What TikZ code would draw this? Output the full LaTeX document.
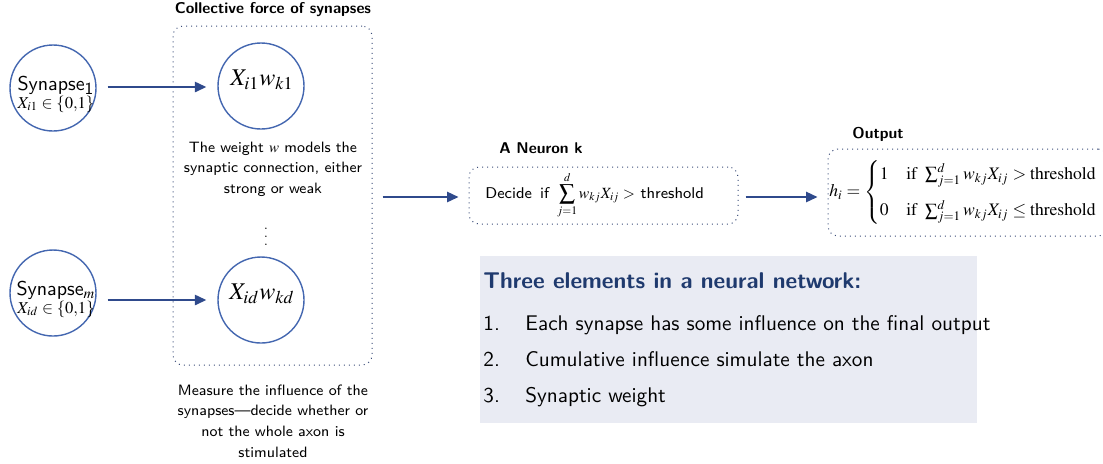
\documentclass[tikz,border=0pt]{standalone}
\usepackage{amsmath}
\usepackage{mathptmx}
\usetikzlibrary{arrows.meta}
\definecolor{circblue}{HTML}{4467B0}
\definecolor{arrblue}{HTML}{2F4A8C}
\definecolor{navy}{HTML}{1F3A6E}
\definecolor{panel}{HTML}{E9EBF3}
\definecolor{dotc}{HTML}{3A4C78}
\begin{document}
\begin{tikzpicture}[x=0.5pt, y=-0.5pt, >={Triangle[length=2mm, width=1.8mm]},
  sinapsis/.style={circle, draw=circblue, line width=0.7pt, minimum size=43pt, inner sep=0pt},
  caja/.style={draw=dotc, dotted, rounded corners=5pt, line width=0.5pt},
  flecha/.style={->, draw=arrblue, line width=0.9pt},
  titulo/.style={font=\sffamily\bfseries\fontsize{7.8}{9}\selectfont},
  texto/.style={font=\sffamily\fontsize{7.5}{10.3}\selectfont, align=center},
  lista/.style={anchor=base west, inner sep=0pt, font=\sffamily\fontsize{10.6}{12}\selectfont}]
  \useasboundingbox (0,0) rectangle (1103,463);
  % panel de los tres elementos
  \fill[panel] (480,256) rectangle (977,423);
  \node[anchor=west, inner sep=0pt, text=navy, font=\sffamily\bfseries\fontsize{11.4}{13}\selectfont]
    (elem) at (483,281) {Three elements in a neural network:};
  \foreach \i/\y/\t in {1/330/Each synapse has some influence on the final output,
                        2/366/Cumulative influence simulate the axon,
                        3/402/Synaptic weight}{
    \node[lista] (num\i) at (483,\y) {\i.};
    \node[lista] (item\i) at (525,\y) {\t};
  }
  % fuerza colectiva
  \node[titulo] (tcolec) at (273,10) {Collective force of synapses};
  \node[caja, minimum width=99.5pt, minimum height=169.5pt] (colec) at (272.5,195.5) {};
  \node[sinapsis] (s1) at (53,88) {};
  \node[font=\sffamily\fontsize{10}{11}\selectfont, align=center, inner sep=0pt] (s1t) at (56,94)
    {Synapse$_{\textsf{\fontsize{8.5}{9}\selectfont 1}}$\\[-2pt] {\fontsize{8.3}{9}\selectfont $X_{i1}\in\{0{,}1\}$}};
  \node[sinapsis] (sm) at (53,293) {};
  \node[font=\sffamily\fontsize{10}{11}\selectfont, align=center, inner sep=0pt] (smt) at (56,299)
    {Synapse$_{\fontsize{9}{9}\selectfont m}$\\[-2pt] {\fontsize{8.3}{9}\selectfont $X_{id}\in\{0{,}1\}$}};
  \node[sinapsis] (w1) at (261,86) {};
  \node[font=\fontsize{12}{14}\selectfont] (w1t) at (262,80) {$X_{i1}w_{k1}$};
  \node[sinapsis] (wd) at (261,300) {};
  \node[font=\fontsize{12}{14}\selectfont] (wdt) at (262,294) {$X_{id}w_{kd}$};
  \node[texto] (peso) at (273,169) {The weight $w$ models the\\synaptic connection, either\\strong or weak};
  \node[inner sep=0pt, font=\fontsize{6}{7}\selectfont] (pts) at (266,231) {$\vdots$};
  \node[texto] (medir) at (273,421) {Measure the influence of the\\synapses---decide whether or\\not the whole axon is\\stimulated};
  \draw[flecha, shorten <=5.5pt, shorten >=5.5pt] (s1.east |- 0,87) -- (w1.west |- 0,87);
  \draw[flecha, shorten <=5.5pt, shorten >=5.5pt] (sm.east |- 0,300) -- (wd.west |- 0,300);
  % neurona
  \node[titulo] (tneur) at (541,148) {A Neuron k};
  \node[caja, minimum width=134.5pt, minimum height=28.5pt] (neur) at (603.5,195.5) {};
  \node[anchor=west, inner sep=0pt, font=\sffamily\fontsize{7.8}{10}\selectfont] (neurt) at (485,195)
    {Decide\ \,if\ \,$\displaystyle\sum_{j=1}^{d} w_{kj}X_{ij}>$ threshold};
  \draw[flecha, shorten <=5pt, shorten >=5pt] (colec.east |- 0,197) -- (neur.west |- 0,197);
  % salida
  \node[titulo] (tsal) at (878,134) {Output};
  \node[caja, minimum width=140pt, minimum height=43.5pt] (sal) at (968,192.5) {};
  \node[anchor=west, inner sep=0pt, font=\fontsize{8.8}{11}\selectfont] (salt) at (829,192.5)
    {$h_i=\begin{cases}1\quad\mathrm{if}\ \sum_{j=1}^{d} w_{kj}X_{ij}>\mathrm{threshold}\\[5pt]
      0\quad\mathrm{if}\ \sum_{j=1}^{d} w_{kj}X_{ij}\le\mathrm{threshold}\end{cases}$};
  \draw[flecha, shorten <=3.5pt, shorten >=5pt] (neur.east |- 0,197) -- (sal.west |- 0,197);
\end{tikzpicture}
\end{document}
